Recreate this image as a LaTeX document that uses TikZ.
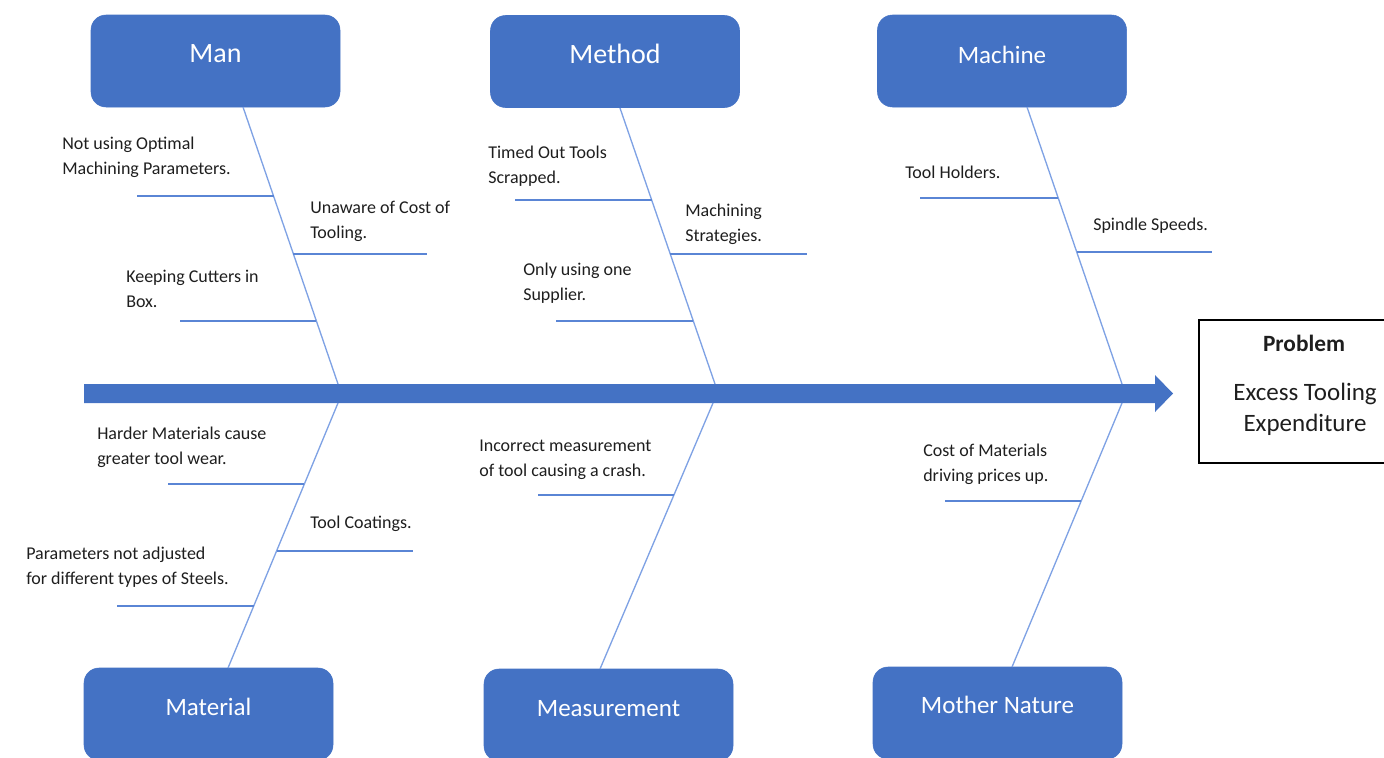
\documentclass[tikz,border=0pt]{standalone}
\usepackage{fontspec}
\setmainfont{Carlito}
\definecolor{boxblue}{HTML}{4472C4}
\definecolor{spineblue}{HTML}{7FA2E4}
\definecolor{ribblue}{HTML}{5A85D5}
\definecolor{txtgray}{HTML}{1E1E1E}
\begin{document}
\begin{tikzpicture}[x=0.75pt,y=-0.75pt,
  catbox/.style={fill=boxblue,draw=boxblue,rounded corners=11.25pt,minimum width=186.75pt,minimum height=69pt,inner sep=0pt},
  catbig/.style={text=white,anchor=base,inner sep=0pt,font=\fontsize{21}{25}\selectfont},
  catsmall/.style={text=white,anchor=base,inner sep=0pt,font=\fontsize{18.75}{22}\selectfont},
  spine/.style={draw=spineblue,line width=1pt},
  rib/.style={draw=ribblue,line width=1pt},
  cause/.style={text=txtgray,anchor=base west,align=left,inner sep=0pt,font=\fontsize{13.5}{18.6}\selectfont},
  probbox/.style={draw=black,line width=0.8pt,minimum width=151.5pt,minimum height=107.25pt,inner sep=0pt},
  probtxt/.style={text=txtgray,anchor=base,inner sep=0pt,font=\fontsize{18.75}{23.25}\selectfont}
]
\useasboundingbox (0,0) rectangle (1384,757);
\clip (0,0) rectangle (1384,757);

% main arrow
\fill[boxblue] (84,384) -- (1155,384) -- (1155,375) -- (1173,393.5) -- (1155,412) -- (1155,403) -- (84,403) -- cycle;

% category boxes
\node[catbox] (man) at (215.5,61) {};
\node[catbig] (manT) at (215.5,62) {Man};
\node[catbox] (method) at (615,61.5) {};
\node[catbig] (methodT) at (615,63) {Method};
\node[catbox] (machine) at (1002,61) {};
\node[catsmall] (machineT) at (1002,63) {Machine};
\node[catbox] (material) at (208.5,714) {};
\node[catsmall] (materialT) at (208.5,715) {Material};
\node[catbox] (measure) at (608.5,715) {};
\node[catsmall] (measureT) at (608.5,716) {Measurement};
\node[catbox] (nature) at (997.5,713) {};
\node[catsmall] (natureT) at (997.5,713) {Mother Nature};

% problem box
\node[probbox] (prob) at (1300,391.5) {};
\node[probtxt,font=\bfseries\fontsize{17.5}{22}\selectfont] (probH) at (1304,351) {Problem};
\node[probtxt] (probL1) at (1305,400) {Excess Tooling};
\node[probtxt] (probL2) at (1305,431) {Expenditure};

% spine points
\coordinate (manS) at (243,107);   \coordinate (manE) at (338,384);
\coordinate (metS) at (620,108);   \coordinate (metE) at (715,384);
\coordinate (macS) at (1027,107);  \coordinate (macE) at (1122,384);
\coordinate (matS) at (228,668);   \coordinate (matE) at (338,403);
\coordinate (meaS) at (600,669);   \coordinate (meaE) at (713,403);
\coordinate (natS) at (1012,667);  \coordinate (natE) at (1122,403);

\draw[spine] (manS) -- (manE);
\draw[spine] (metS) -- (metE);
\draw[spine] (macS) -- (macE);
\draw[spine] (matS) -- (matE);
\draw[spine] (meaS) -- (meaE);
\draw[spine] (natS) -- (natE);

% ribs
\draw[rib] (137,196) -- (273.5,196);
\draw[rib] (293.4,254) -- (427,254);
\draw[rib] (180,321) -- (316.4,321);
\draw[rib] (515,200) -- (651.7,200);
\draw[rib] (670.2,254) -- (807,254);
\draw[rib] (556,321) -- (693.3,321);
\draw[rib] (920,198) -- (1058.2,198);
\draw[rib] (1076.7,252) -- (1212,252);
\draw[rib] (168,484) -- (304.4,484);
\draw[rib] (276.6,551) -- (413,551);
\draw[rib] (117,606) -- (253.7,606);
\draw[rib] (538,495) -- (673.9,495);
\draw[rib] (945,501) -- (1081.2,501);

% cause texts (base anchor = baseline of last line)
\node[cause] (c1) at (62,174.5) {Not using Optimal\\Machining Parameters.};
\node[cause] (c2) at (310,238) {Unaware of Cost of\\Tooling.};
\node[cause] (c3) at (126,307) {Keeping Cutters in\\Box.};
\node[cause] (c4) at (488,183) {Timed Out Tools\\Scrapped.};
\node[cause] (c5) at (685,241) {Machining\\Strategies.};
\node[cause] (c6) at (523,300) {Only using one\\Supplier.};
\node[cause] (c7) at (905,178) {Tool Holders.};
\node[cause] (c8) at (1093,230) {Spindle Speeds.};
\node[cause] (c9) at (97,464) {Harder Materials cause\\greater tool wear.};
\node[cause] (c10) at (310,528) {Tool Coatings.};
\node[cause] (c11) at (26,584) {Parameters not adjusted\\for different types of Steels.};
\node[cause] (c12) at (479,476) {Incorrect measurement\\of tool causing a crash.};
\node[cause] (c13) at (923,481) {Cost of Materials\\driving prices up.};
\end{tikzpicture}
\end{document}
